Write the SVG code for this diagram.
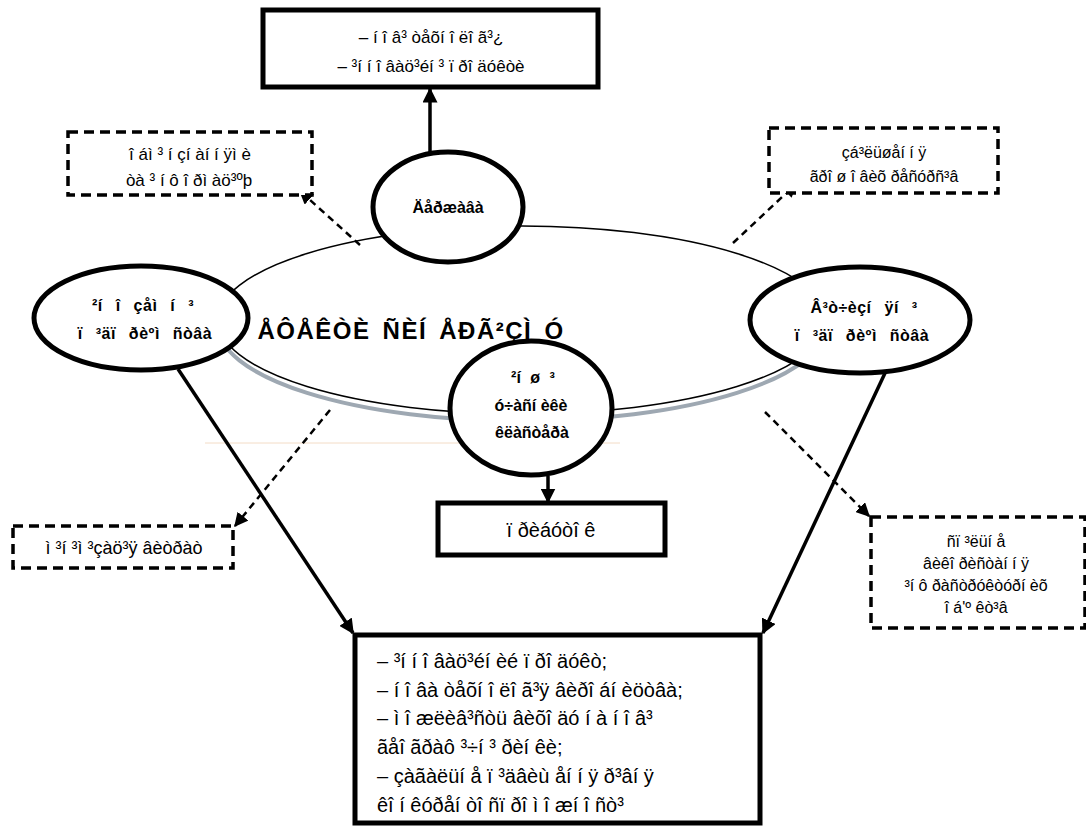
<svg xmlns="http://www.w3.org/2000/svg" width="1086" height="832" viewBox="0 0 1086 832">
<defs>
<marker id="ah" viewBox="0 0 10 10" refX="9" refY="5" markerWidth="15" markerHeight="15" orient="auto" markerUnits="userSpaceOnUse"><path d="M0,0 L10,5 L0,10 z" fill="#000"/></marker>
<marker id="ahd" viewBox="0 0 10 10" refX="9" refY="5" markerWidth="14" markerHeight="14" orient="auto" markerUnits="userSpaceOnUse"><path d="M0,0 L10,5 L0,10 z" fill="#000"/></marker>
</defs>
<style>
text{font-family:"Liberation Sans",Arial,sans-serif;fill:#000}
.t{font-size:16px}
.t17{font-size:17px}
.t18{font-size:18px}
.t20{font-size:20px}
.b{font-size:16px;font-weight:bold}
.bs{font-size:16px;font-weight:bold;letter-spacing:0.5px;word-spacing:8px}
.c{font-size:24px;font-weight:bold;letter-spacing:1.5px;word-spacing:4px}
.box{fill:#fff;stroke:#000;stroke-width:5}
.dbox{fill:#fff;stroke:#000;stroke-width:3.5;stroke-dasharray:10 6}
.ell{fill:#fff;stroke:#000;stroke-width:5}
.sol{stroke:#000;stroke-width:3.5;fill:none}
.dash{stroke:#000;stroke-width:2.5;stroke-dasharray:7 5;fill:none}
</style>
<rect width="1086" height="832" fill="#fff"/>
<line x1="205" y1="443" x2="620" y2="443" stroke="#f3dcc6" stroke-width="1"/>
<g id="center">
<ellipse cx="522" cy="325" rx="304" ry="96" fill="none" stroke="#9ea8b2" stroke-width="4"/>
<ellipse cx="522" cy="320" rx="304" ry="94" fill="#fff" stroke="#000" stroke-width="1.5"/>
</g>
<g id="connectors">
<line class="sol" x1="430" y1="153" x2="430" y2="89" marker-end="url(#ah)"/>
<line class="sol" x1="548" y1="476" x2="548" y2="502" marker-end="url(#ah)"/>
<line class="sol" x1="178" y1="369" x2="353" y2="633" marker-end="url(#ah)"/>
<line class="sol" x1="886" y1="371" x2="763" y2="633" marker-end="url(#ah)"/>
<line class="dash" x1="360" y1="245" x2="300" y2="191" marker-end="url(#ahd)"/>
<line class="dash" x1="733" y1="243" x2="796" y2="184" marker-end="url(#ahd)"/>
<line class="dash" x1="330" y1="410" x2="235" y2="526" marker-end="url(#ahd)"/>
<line class="dash" x1="765" y1="412" x2="869" y2="516" marker-end="url(#ahd)"/>
</g>
<g id="top">
<rect class="box" x="263" y="10" width="335" height="77"/>
<text class="t17" x="431" y="43" text-anchor="middle">– í î â³ òåõí î ëî ã³¿</text>
<text class="t17" x="431" y="72" text-anchor="middle">– ³í í î âàö³éí ³ ï ðî äóêòè</text>
</g>
<g id="state">
<ellipse class="ell" cx="448" cy="207" rx="75" ry="55"/>
<text class="b" x="448" y="213" text-anchor="middle">Äåðæàâà</text>
</g>
<g id="foreign">
<ellipse class="ell" cx="141" cy="318" rx="107" ry="52"/>
<text class="bs" x="143" y="311" text-anchor="middle">²í î çåì í ³</text>
<text class="bs" x="145" y="339" text-anchor="middle">ï ³äï ðèºì ñòâà</text>
</g>
<g id="domestic">
<ellipse class="ell" cx="860" cy="320" rx="110" ry="53"/>
<text class="bs" x="864" y="313" text-anchor="middle">Â³ò÷èçí ÿí ³</text>
<text class="bs" x="862" y="341" text-anchor="middle">ï ³äï ðèºì ñòâà</text>
</g>
<g id="center-label">
<text class="c" x="411" y="339" text-anchor="middle">ÅÔÅÊÒÈ ÑÈÍ ÅÐÃ²ÇÌ Ó</text>
</g>
<g id="others">
<ellipse class="ell" cx="531" cy="408" rx="81" ry="67"/>
<text class="b" x="533" y="383" text-anchor="middle" style="word-spacing:5px">²í ø ³</text>
<text class="b" x="531" y="411" text-anchor="middle">ó÷àñí èêè</text>
<text class="b" x="532" y="438" text-anchor="middle">êëàñòåðà</text>
</g>
<g id="profit">
<rect class="box" x="438" y="503" width="227" height="52"/>
<text class="t20" x="551" y="537" text-anchor="middle">ï ðèáóòî ê</text>
</g>
<g id="results">
<rect class="box" x="355" y="635" width="405" height="188"/>
<text class="t20" x="377" y="668">– ³í í î âàö³éí èé ï ðî äóêò;</text>
<text class="t20" x="377" y="697">– í î âà òåõí î ëî ã³ÿ âèðî áí èöòâà;</text>
<text class="t20" x="377" y="725">– ì î æëèâ³ñòü âèõî äó í à í î â³</text>
<text class="t20" x="377" y="754">ãåî ãðàô ³÷í ³ ðèí êè;</text>
<text class="t20" x="377" y="783">– çàãàëüí å ï ³äâèù åí í ÿ ð³âí ÿ</text>
<text class="t20" x="377" y="812">êî í êóðåí òî ñï ðî ì î æí î ñò³</text>
</g>
<g id="exchange">
<rect class="dbox" x="68" y="132" width="244" height="63"/>
<text class="t17" x="190" y="160" text-anchor="middle">î áì ³ í çí àí í ÿì è</text>
<text class="t17" x="189" y="186" text-anchor="middle">òà ³ í ô î ðì àö³ºþ</text>
</g>
<g id="money">
<rect class="dbox" x="769" y="128" width="229" height="65"/>
<text class="t" x="884" y="158" text-anchor="middle">çá³ëüøåí í ÿ</text>
<text class="t" x="884" y="182" text-anchor="middle">ãðî ø î âèõ ðåñóðñ³â</text>
</g>
<g id="costs">
<rect class="dbox" x="13" y="526" width="220" height="42"/>
<text class="t18" x="124" y="554" text-anchor="middle">ì ³í ³ì ³çàö³ÿ âèòðàò</text>
</g>
<g id="infra">
<rect class="dbox" x="871" y="517" width="214" height="111"/>
<text class="t" x="976" y="547" text-anchor="middle">ñï ³ëüí å</text>
<text class="t" x="976" y="569" text-anchor="middle">âèêî ðèñòàí í ÿ</text>
<text class="t" x="976" y="591" text-anchor="middle">³í ô ðàñòðóêòóðí èõ</text>
<text class="t" x="976" y="613" text-anchor="middle">î á'º êò³â</text>
</g>
</svg>
